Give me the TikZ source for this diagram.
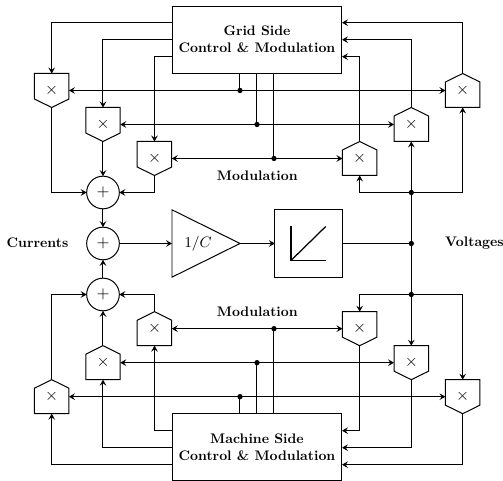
\documentclass[tikz,border=0pt]{standalone}
\usepackage{graphicx}
\usetikzlibrary{arrows.meta,calc}
\newcommand{\bt}[1]{\scalebox{0.83}{\fontsize{10}{12}\selectfont\bfseries #1}}
\newcommand{\multdown}[3]{%
  \node[multcell] (#1) at (#2,#3) {$\times$};
  \draw[ln] (#1.north west) -- (#1.north east) -- ($(#1.south east)+(0,-8.5)$) -- (#1.south) -- ($(#1.south west)+(0,-8.5)$) -- cycle;}
\newcommand{\multup}[3]{%
  \node[multcell] (#1) at (#2,#3) {$\times$};
  \draw[ln] (#1.south west) -- (#1.south east) -- ($(#1.north east)+(0,8.5)$) -- (#1.north) -- ($(#1.north west)+(0,8.5)$) -- cycle;}
\tikzset{
  x=0.6pt,y=-0.6pt,
  >={Stealth[length=3.6pt,width=4pt,inset=1.4pt]},
  ln/.style={line width=0.6pt,line join=miter},
  arr/.style={ln,->},
  darr/.style={ln,<->},
  multcell/.style={minimum width=20.7pt,minimum height=20.4pt,inner sep=0pt,outer sep=0pt},
  sumcirc/.style={circle,draw,ln,minimum size=19.6pt,inner sep=0pt,outer sep=0pt},
  ctrlbox/.style={draw,ln,minimum width=102pt,minimum height=40.2pt,inner sep=0pt,outer sep=0pt,align=center,font=\fontsize{8.2}{10.2}\selectfont},
  lab/.style={inner sep=0pt},
  junct/.style={circle,fill=black,minimum size=3.2pt,inner sep=0pt,outer sep=0pt},
}
\begin{document}
\begin{tikzpicture}
\useasboundingbox (0,0) rectangle (503,481);
\fill[white] (0,0) rectangle (503,481);

% control boxes
\node[ctrlbox] (grid) at (257,39.7) {\bt{Grid Side}\\\bt{Control \& Modulation}};
\node[ctrlbox] (mach) at (257,447.2) {\bt{Machine Side}\\\bt{Control \& Modulation}};

% multipliers
\multdown{a1}{51.7}{90.5}
\multdown{a2}{103}{124.5}
\multdown{a3}{154.5}{158.5}
\multup{b1}{462.7}{90.5}
\multup{b2}{411.3}{124.5}
\multup{b3}{359.7}{158.5}
\multup{c1}{51.7}{396.7}
\multup{c2}{103}{362.7}
\multup{c3}{154.5}{328.7}
\multdown{d1}{462.7}{396.7}
\multdown{d2}{411.3}{362.7}
\multdown{d3}{359.7}{328.7}

% summing junctions
\node[sumcirc] (s1) at (103,192.5) {$+$};
\node[sumcirc] (s2) at (103,243.5) {$+$};
\node[sumcirc] (s3) at (103,294.5) {$+$};

% gain
\node[minimum width=40.8pt,minimum height=40.4pt,inner sep=0pt,outer sep=0pt] (gain) at (206,243.5) {};
\draw[ln] (gain.north west) -- (gain.east) -- (gain.south west) -- cycle;
\node[inner sep=0pt] (gaintext) at (198,243.5) {\small$1/C$};

% integrator
\node[draw,ln,minimum width=40.6pt,minimum height=40.4pt,inner sep=0pt,outer sep=0pt] (integ) at (308.7,243.5) {};
\draw[ln,line width=0.75pt] ($(integ.center)+(-17.7,-17)$) -- ($(integ.center)+(-17.7,17)$) -- ($(integ.center)+(17,17)$);
\draw[ln,line width=0.75pt] ($(integ.center)+(-17.7,17)$) -- ($(integ.center)+(17,-17)$);

% junction dots
\node[junct] (vm) at (411.3,243.5) {};
\node[junct] (vt) at (411.3,192.5) {};
\node[junct] (vb) at (411.3,294.5) {};
\node[junct] (j1) at (240,90.5) {};
\node[junct] (j2) at (257,124.5) {};
\node[junct] (j3) at (274,158.5) {};
\node[junct] (k1) at (240,396.7) {};
\node[junct] (k2) at (257,362.7) {};
\node[junct] (k3) at (274,328.7) {};

% ports on the control boxes
\coordinate (gl1) at (grid.west |- 0,22.7);
\coordinate (gl2) at (grid.west |- 0,39.7);
\coordinate (gl3) at (grid.west |- 0,56.7);
\coordinate (gr1) at (grid.east |- 0,22.7);
\coordinate (gr2) at (grid.east |- 0,39.7);
\coordinate (gr3) at (grid.east |- 0,56.7);
\coordinate (ml1) at (mach.west |- 0,464.7);
\coordinate (ml2) at (mach.west |- 0,447.7);
\coordinate (ml3) at (mach.west |- 0,430.7);
\coordinate (mr1) at (mach.east |- 0,464.7);
\coordinate (mr2) at (mach.east |- 0,447.7);
\coordinate (mr3) at (mach.east |- 0,430.7);

% grid side
\draw[arr] (gl1) -| (a1.north);
\draw[arr] (gl2) -| (a2.north);
\draw[arr] (gl3) -| (a3.north);
\draw[arr] (b1.north) |- (gr1);
\draw[arr] (b2.north) |- (gr2);
\draw[arr] (b3.north) |- (gr3);
\draw[arr] (a1.south) |- (s1.west);
\draw[arr] (a2.south) -- (s1.north);
\draw[arr] (a3.south) |- (s1.east);
\draw[arr] (s1.south) -- (s2.north);
\draw[darr] (a1.east) -- (b1.west);
\draw[darr] (a2.east) -- (b2.west);
\draw[darr] (a3.east) -- (b3.west);
\draw[ln] (grid.south -| j1) -- (j1);
\draw[ln] (grid.south -| j2) -- (j2);
\draw[ln] (grid.south -| j3) -- (j3);

% machine side
\draw[arr] (ml1) -| (c1.south);
\draw[arr] (ml2) -| (c2.south);
\draw[arr] (ml3) -| (c3.south);
\draw[arr] (d1.south) |- (mr1);
\draw[arr] (d2.south) |- (mr2);
\draw[arr] (d3.south) |- (mr3);
\draw[arr] (c1.north) |- (s3.west);
\draw[arr] (c2.north) -- (s3.south);
\draw[arr] (c3.north) |- (s3.east);
\draw[arr] (s3.north) -- (s2.south);
\draw[darr] (c1.east) -- (d1.west);
\draw[darr] (c2.east) -- (d2.west);
\draw[darr] (c3.east) -- (d3.west);
\draw[ln] (mach.north -| k1) -- (k1);
\draw[ln] (mach.north -| k2) -- (k2);
\draw[ln] (mach.north -| k3) -- (k3);

% middle row
\draw[arr] (s2.east) -- (gain.west);
\draw[arr] (gain.east) -- (integ.west);
\draw[ln] (integ.east) -- (vm);
\draw[arr] (vm) -- (b2.south);
\draw[arr] (vm) -- (d2.north);
\draw[arr] (vt) -| (b3.south);
\draw[arr] (vt) -| (b1.south);
\draw[arr] (vb) -| (d3.north);
\draw[arr] (vb) -| (d1.north);

% labels
\node[lab] (l1) at (257.3,175.5) {\bt{Modulation}};
\node[lab] (l2) at (257.3,311.5) {\bt{Modulation}};
\node[lab] (l3) at (37.5,243) {\bt{Currents}};
\node[lab] (l4) at (474.5,243) {\bt{Voltages}};
\end{tikzpicture}
\end{document}
